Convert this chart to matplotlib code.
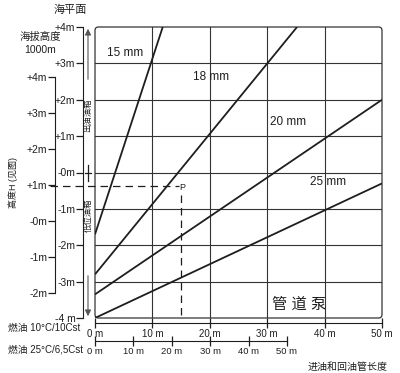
import matplotlib
matplotlib.use("Agg")
import matplotlib.pyplot as plt
from matplotlib.patches import FancyBboxPatch

plt.rcParams['font.family'] = ['Liberation Sans', 'Noto Sans CJK SC', 'DejaVu Sans']

# pipe diameter lines: suction length (m) vs height (m)
pipe_sizes = ['15 mm', '18 mm', '20 mm', '25 mm']
line_len = [[0, 11.8], [0, 35.2], [0, 50], [0, 50]]
line_height = [[-1.7, 4.0], [-2.8, 4.0], [-3.35, 2.0], [-4.0, -0.3]]

height_ticks = [-4, -3, -2, -1, 0, 1, 2, 3, 4]
height_labels = ['-4 m', '-3m', '-2m', '-1m', '-0m', '+1m', '+2m', '+3m', '+4m']
alt_ticks = [-2, -1, 0, 1, 2, 3, 4]
alt_labels = ['-2m', '-1m', '-0m', '+1m', '+2m', '+3m', '+4m']
len_ticks = [0, 10, 20, 30, 40, 50]
len_labels = ['0 m', '10 m', '20 m', '30 m', '40 m', '50 m']

# example point P
p_len = 15
p_height = -0.37

INK = '#1e1e1e'
W, H = 400, 373


def fx(x):
    return x / W


def fy(y):
    return 1 - y / H


fig = plt.figure(figsize=(4, 3.73), dpi=100)

# main chart
ax = fig.add_axes([fx(95), fy(318), 287 / W, 291 / H])
ax.set_xlim(0, 50)
ax.set_ylim(-4, 4)
ax.set_xticks([10, 20, 30, 40])
ax.set_yticks([-3, -2, -1, 0, 1, 2, 3])
ax.grid(True, color='#333333', lw=0.8)
ax.tick_params(length=0, labelbottom=False, labelleft=False)
for s in ax.spines.values():
    s.set_visible(False)
ax.add_patch(FancyBboxPatch((0, 0), 1, 1, boxstyle='round,pad=0,rounding_size=0.012',
                            transform=ax.transAxes, fill=False, ec='#333333', lw=0.9,
                            clip_on=False))

for xs, ys in zip(line_len, line_height):
    ax.plot(xs, ys, color=INK, lw=1.3, solid_capstyle='butt')

label_xy = [(2.1, 3.28), (17, 2.63), (30.5, 1.39), (37.5, -0.26)]
for name, (lx, ly) in zip(pipe_sizes, label_xy):
    ax.text(lx, ly, name, fontsize=8.5, color=INK, va='center', ha='left')

ax.text(35.5, -3.62, '管 道 泵', fontsize=11, color=INK, ha='center', va='center')

# dashed guide lines to P
ax.plot([-7.8, p_len - 0.4], [p_height, p_height], color=INK, lw=0.9,
        dashes=(6, 4), clip_on=False)
ax.plot([p_len, p_len], [p_height - 0.25, -4], color=INK, lw=0.9, dashes=(6, 4))
ax.text(p_len + 0.2, p_height - 0.05, 'P', fontsize=6.5, color=INK, ha='center', va='center')

# height axis next to the chart
ay = fig.add_axes([fx(83), fy(318), 0.0001, 291 / H])
ay.set_ylim(-4, 4)
ay.set_yticks(height_ticks)
ay.set_yticklabels(height_labels, fontsize=7.5, color=INK)
ay.set_xticks([])
for k in ['top', 'right', 'bottom']:
    ay.spines[k].set_visible(False)
ay.spines['left'].set_color(INK)
ay.tick_params(axis='y', length=5, width=0.9, pad=0.5, color=INK)

# altitude 1000 m axis
aa = fig.add_axes([fx(55), fy(293), 0.0001, 216 / H])
aa.set_ylim(-2, 4)
aa.set_yticks(alt_ticks)
aa.set_yticklabels(alt_labels, fontsize=7.5, color=INK)
aa.set_xticks([])
for k in ['top', 'right', 'bottom']:
    aa.spines[k].set_visible(False)
aa.spines['left'].set_color(INK)
aa.tick_params(axis='y', length=5, width=0.9, pad=0.5, color=INK)

# length axes (two oil viscosities)
for y0, right, fs in [(323, 382, 7), (341, 287, 6.8)]:
    ab = fig.add_axes([fx(95), fy(y0), (right - 95) / W, 0.0001])
    ab.set_xlim(0, 50)
    ab.set_xticks(len_ticks)
    ab.set_xticklabels(len_labels, fontsize=fs, color=INK)
    ab.set_yticks([])
    for k in ['top', 'right', 'left']:
        ab.spines[k].set_visible(False)
    ab.spines['bottom'].set_color(INK)
    ab.tick_params(axis='x', direction='inout', length=7, width=0.9, pad=1, color=INK)

# overlay for free annotations
ov = fig.add_axes([0, 0, 1, 1])
ov.set_xlim(0, W)
ov.set_ylim(H, 0)
ov.axis('off')
ov.patch.set_alpha(0)

ov.text(70, 10, '海平面', fontsize=8, color=INK, ha='center', va='center')
ov.text(40, 37, '海拔高度', fontsize=7.5, color=INK, ha='center', va='center')
ov.text(40, 50, '1000m', fontsize=7.5, color=INK, ha='center', va='center')
ov.text(13, 182, '高度H (见图)', fontsize=6.5, color=INK, rotation=90,
        ha='center', va='center')
ov.text(8, 328, '燃油 10°C/10Cst', fontsize=7, color=INK, ha='left', va='center')
ov.text(8, 349, '燃油 25°C/6,5Cst', fontsize=7, color=INK, ha='left', va='center')
ov.text(388, 367, '进油和回油管长度', fontsize=7.2, color=INK, ha='right', va='center')

# tank strip between height axis and chart
ov.annotate('', xy=(88, 26), xytext=(88, 82),
            arrowprops=dict(arrowstyle='-|>', color='#555555', lw=0.8, mutation_scale=9))
ov.annotate('', xy=(88, 319), xytext=(88, 273),
            arrowprops=dict(arrowstyle='-|>', color='#555555', lw=0.8, mutation_scale=9))
ov.text(88.5, 115, '出油油箱', fontsize=6, color=INK, rotation=90, ha='center', va='center')
ov.text(88.5, 215, '低位油箱', fontsize=6, color=INK, rotation=90, ha='center', va='center')
ov.plot([88, 88], [165, 181], color=INK, lw=0.9)
ov.plot([85, 91], [173, 173], color=INK, lw=0.9)

fig.savefig('out.png', dpi=100, facecolor='white')
